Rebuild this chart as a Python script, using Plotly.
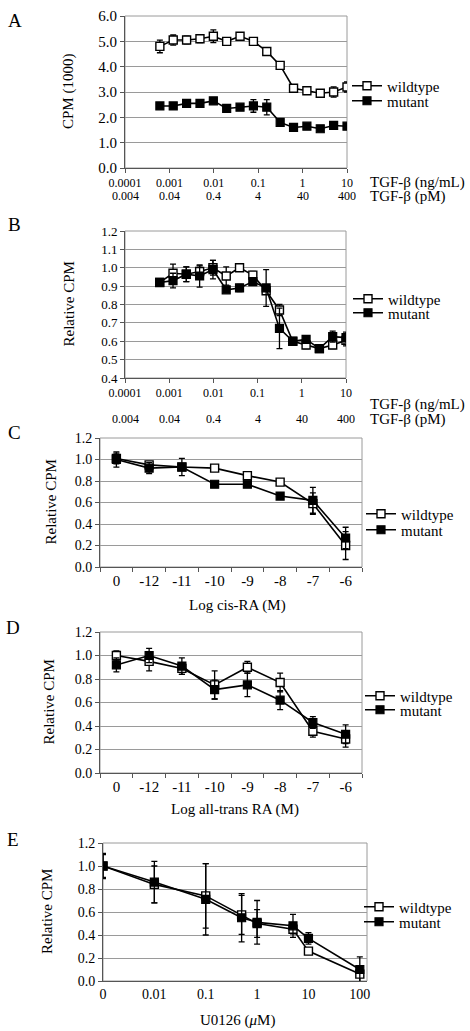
import math
import plotly.graph_objects as go

# ---------------- data ----------------
tgf_ng = [0.00061, 0.00122, 0.00244, 0.00488, 0.00977, 0.0195, 0.039, 0.078,
          0.156, 0.3125, 0.625, 1.25, 2.5, 5, 10]
tgf_tickvals = [0.0001, 0.001, 0.01, 0.1, 1, 10]
tgf_ng_labels = ["0.0001", "0.001", "0.01", "0.1", "1", "10"]
tgf_pm_labels = ["0.004", "0.04", "0.4", "4", "40", "400"]

a_wt = [4.8, 5.05, 5.05, 5.1, 5.2, 5.0, 5.2, 5.0, 4.6, 4.05, 3.15, 3.05, 2.95, 3.0, 3.2]
a_wt_err = [0.25, 0.2, 0.15, 0.15, 0.25, 0.05, 0.05, 0.05, 0.12, 0.05, 0.05, 0.04, 0.05, 0.2, 0.2]
a_mu = [2.45, 2.45, 2.55, 2.55, 2.65, 2.35, 2.4, 2.45, 2.4, 1.8, 1.6, 1.65, 1.55, 1.68, 1.65]
a_mu_err = [0.05, 0.05, 0.15, 0.1, 0.05, 0.05, 0.05, 0.25, 0.3, 0.05, 0.05, 0.05, 0.05, 0.05, 0.05]

b_wt = [0.92, 0.97, 0.965, 0.98, 1.0, 0.955, 1.0, 0.96, 0.875, 0.77, 0.6, 0.58, 0.56, 0.58, 0.605]
b_wt_err = [0.01, 0.05, 0.04, 0.03, 0.04, 0.05, 0.01, 0.02, 0.01, 0.03, 0.02, 0.02, 0.01, 0.02, 0.03]
b_mu = [0.92, 0.93, 0.965, 0.955, 0.99, 0.88, 0.89, 0.925, 0.89, 0.67, 0.6, 0.61, 0.56, 0.625, 0.62]
b_mu_err = [0.01, 0.04, 0.04, 0.06, 0.05, 0.01, 0.02, 0.02, 0.10, 0.11, 0.02, 0.02, 0.01, 0.03, 0.03]

ra_cats = ["0", "-12", "-11", "-10", "-9", "-8", "-7", "-6"]
c_wt = [1.01, 0.95, 0.93, 0.92, 0.85, 0.79, 0.59, 0.2]
c_wt_err = [0.05, 0.02, 0.02, 0.01, 0.01, 0.01, 0.1, 0.13]
c_mu = [1.0, 0.92, 0.93, 0.77, 0.77, 0.66, 0.62, 0.27]
c_mu_err = [0.07, 0.05, 0.08, 0.01, 0.01, 0.01, 0.12, 0.1]

d_wt = [1.0, 0.95, 0.89, 0.75, 0.9, 0.77, 0.355, 0.29]
d_wt_err = [0.04, 0.08, 0.05, 0.12, 0.05, 0.08, 0.05, 0.07]
d_mu = [0.92, 1.0, 0.91, 0.71, 0.75, 0.62, 0.43, 0.33]
d_mu_err = [0.06, 0.06, 0.07, 0.08, 0.1, 0.08, 0.05, 0.08]

u0126_um = [0, 0.01, 0.1, 0.5, 1, 5, 10, 100]
u0126_tickvals = [0, 0.01, 0.1, 1, 10, 100]
u0126_ticklabels = ["0", "0.01", "0.1", "1", "10", "100"]
e_wt = [1.0, 0.84, 0.74, 0.575, 0.5, 0.45, 0.26, 0.06]
e_wt_err = [0.1, 0.16, 0.28, 0.17, 0.12, 0.04, 0.01, 0.07]
e_mu = [1.0, 0.86, 0.71, 0.55, 0.51, 0.48, 0.37, 0.1]
e_mu_err = [0.11, 0.18, 0.31, 0.21, 0.19, 0.1, 0.05, 0.11]

ZERO_POS = 0.001  # position used for "0" on the log axis of panel E

# ---------------- layout helpers ----------------
W, H = 470, 1031
FONT = "Liberation Serif, Times New Roman, serif"
GRID = "#9a9a9a"
AXC = "#555555"


def xd(x0, x1):
    return [x0 / W, x1 / W]


def yd(y0, y1):
    return [1 - y1 / H, 1 - y0 / H]


def px_x(x):
    return x / W


def px_y(y):
    return 1 - y / H


fig = go.Figure()

# key, xbox, ybox, letter pos, y-title x, legend (text-x, y wt, y mu)
panels = [
    ("A", (125, 347), (16, 168), (15, 20), 68, (385, 86, 101)),
    ("B", (125, 346), (231, 378), (15, 224), 68, (386, 299, 313)),
    ("C", (100, 362), (438, 567), (15, 432), 50, (399, 514, 530)),
    ("D", (100, 362), (632, 773), (13, 627), 48, (398, 696, 710)),
    ("E", (103, 367), (843, 981), (13, 839), 47, (397, 907, 922)),
]

LEG_OFFSET = 38  # distance from legend box left edge to its text start


def leg_name(n):
    return "legend" if n == 1 else f"legend{n}"


def add_pair(idx, x, wt, wterr, mu, muerr):
    xa = "x" if idx == 1 else f"x{idx}"
    ya = "y" if idx == 1 else f"y{idx}"
    common = dict(mode="lines+markers", xaxis=xa, yaxis=ya, showlegend=True,
                  line=dict(color="black", width=1.6))
    fig.add_trace(go.Scatter(
        x=x, y=wt, name="wildtype", legend=leg_name(2 * idx - 1),
        error_y=dict(type="data", array=wterr, color="black", thickness=1.3, width=3),
        marker=dict(symbol="square", size=8, color="white",
                    line=dict(color="black", width=1.4)),
        **common))
    fig.add_trace(go.Scatter(
        x=x, y=mu, name="mutant", legend=leg_name(2 * idx),
        error_y=dict(type="data", array=muerr, color="black", thickness=1.3, width=3),
        marker=dict(symbol="square", size=8, color="black",
                    line=dict(color="black", width=1.2)),
        **common))


e_pos = [ZERO_POS if v == 0 else v for v in u0126_um]
e_tickpos = [ZERO_POS if v == 0 else v for v in u0126_tickvals]

add_pair(1, tgf_ng, a_wt, a_wt_err, a_mu, a_mu_err)
add_pair(2, tgf_ng, b_wt, b_wt_err, b_mu, b_mu_err)
add_pair(3, ra_cats, c_wt, c_wt_err, c_mu, c_mu_err)
add_pair(4, ra_cats, d_wt, d_wt_err, d_mu, d_mu_err)
add_pair(5, e_pos, e_wt, e_wt_err, e_mu, e_mu_err)

layout = dict(
    width=W, height=H, margin=dict(l=0, r=0, t=0, b=0), showlegend=True,
    paper_bgcolor="white", plot_bgcolor="white", template="none",
    font=dict(family=FONT, color="black", size=14),
)

axis_common = dict(showline=True, linecolor=AXC, linewidth=1, mirror=False,
                   ticks="outside", ticklen=4, tickcolor=AXC, zeroline=False,
                   automargin=False)

# x axes
layout["xaxis"] = dict(domain=xd(125, 347), anchor="y", type="log", range=[-4, 1],
                       tickvals=tgf_tickvals, ticktext=tgf_ng_labels, showgrid=False,
                       tickfont=dict(size=12), **axis_common)
layout["xaxis2"] = dict(domain=xd(125, 346), anchor="y2", type="log", range=[-4, 1],
                        tickvals=tgf_tickvals, ticktext=tgf_ng_labels, showgrid=False,
                        tickfont=dict(size=12), **axis_common)
layout["xaxis3"] = dict(domain=xd(100, 362), anchor="y3", type="category",
                        range=[-0.5, 7.5], tickson="boundaries", showgrid=False,
                        tickfont=dict(size=15), **axis_common)
layout["xaxis4"] = dict(domain=xd(100, 362), anchor="y4", type="category",
                        range=[-0.5, 7.5], tickson="boundaries", showgrid=False,
                        tickfont=dict(size=15), **axis_common)
e_axis = dict(axis_common)
e_axis["ticks"] = ""
layout["xaxis5"] = dict(domain=xd(103, 367), anchor="y5", type="log", range=[-3, 2.14],
                        tickvals=e_tickpos, ticktext=u0126_ticklabels, showgrid=False,
                        tickfont=dict(size=14), **e_axis)

# y axes
layout["yaxis"] = dict(domain=yd(16, 168), anchor="x", range=[0, 6], dtick=1,
                       tickformat=".1f", showgrid=True, gridcolor=GRID, gridwidth=1,
                       tickfont=dict(size=15), **axis_common)
layout["yaxis2"] = dict(domain=yd(231, 378), anchor="x2", range=[0.4, 1.2], dtick=0.1,
                        tickformat=".1f", showgrid=True, gridcolor=GRID, gridwidth=1,
                        tickfont=dict(size=13), **axis_common)
for i, yb in zip([3, 4, 5], [(438, 567), (632, 773), (843, 981)]):
    layout[f"yaxis{i}"] = dict(domain=yd(*yb), anchor=f"x{i}", range=[0, 1.2], dtick=0.2,
                               tickformat=".1f", showgrid=True, gridcolor=GRID, gridwidth=1,
                               tickfont=dict(size=14), **axis_common)

# legends: one per trace, each placed on its own row
leg_common = dict(bgcolor="rgba(0,0,0,0)", font=dict(family=FONT, size=15),
                  itemwidth=30, tracegroupgap=0, xanchor="left", yanchor="middle")
for n, p in enumerate(panels, start=1):
    tx, ywt, ymu = p[5]
    layout[leg_name(2 * n - 1)] = dict(x=px_x(tx - LEG_OFFSET), y=px_y(ywt), **leg_common)
    layout[leg_name(2 * n)] = dict(x=px_x(tx - LEG_OFFSET), y=px_y(ymu), **leg_common)

fig.update_layout(**layout)

y_titles = {"A": "CPM (1000)", "B": "Relative CPM", "C": "Relative CPM",
            "D": "Relative CPM", "E": "Relative CPM"}

for key, (x0, x1), (y0, y1), (lx, ly), ytx, _ in panels:
    # gray frame around plot area
    fig.add_shape(type="rect", xref="paper", yref="paper",
                  x0=px_x(x0), x1=px_x(x1), y0=px_y(y1), y1=px_y(y0),
                  line=dict(color=GRID, width=1), fillcolor="rgba(0,0,0,0)", layer="below")
    # panel letter
    fig.add_annotation(text=key, xref="paper", yref="paper", x=px_x(lx), y=px_y(ly),
                       xanchor="center", yanchor="middle", showarrow=False,
                       font=dict(size=19, family=FONT))
    # y-axis title
    fig.add_annotation(text=y_titles[key], xref="paper", yref="paper", x=px_x(ytx),
                       y=px_y((y0 + y1) / 2), textangle=-90, xanchor="center",
                       yanchor="middle", showarrow=False, font=dict(size=15, family=FONT))

# x-axis titles for C, D, E
for text, cx, cy in [("Log cis-RA (M)", 237, 605), ("Log all-trans RA (M)", 235, 809),
                     ("U0126 (<i>μ</i>M)", 237, 1020)]:
    fig.add_annotation(text=text, xref="paper", yref="paper", x=px_x(cx), y=px_y(cy),
                       xanchor="center", yanchor="middle", showarrow=False,
                       font=dict(size=15, family=FONT))

# second row (pM) tick labels and axis labels for panels A and B
for xa, row1_y, row2_y in [("x", 182, 196), ("x2", 405, 419)]:
    for v, lab in zip(tgf_tickvals, tgf_pm_labels):
        fig.add_annotation(text=lab, xref=xa, yref="paper", x=math.log10(v),
                           y=px_y(row2_y), xanchor="center", yanchor="middle",
                           showarrow=False, font=dict(size=12, family=FONT))
    fig.add_annotation(text="TGF-β (ng/mL)", xref="paper", yref="paper", x=px_x(368),
                       y=px_y(row1_y), xanchor="left", yanchor="middle",
                       showarrow=False, font=dict(size=15, family=FONT))
    fig.add_annotation(text="TGF-β (pM)", xref="paper", yref="paper", x=px_x(368),
                       y=px_y(row2_y), xanchor="left", yanchor="middle",
                       showarrow=False, font=dict(size=15, family=FONT))

# remove the default page margin so the figure sits at the window's top-left corner
fig.write_html("out.html", config={"displayModeBar": False},
               post_script="document.body.style.margin='0px';")
